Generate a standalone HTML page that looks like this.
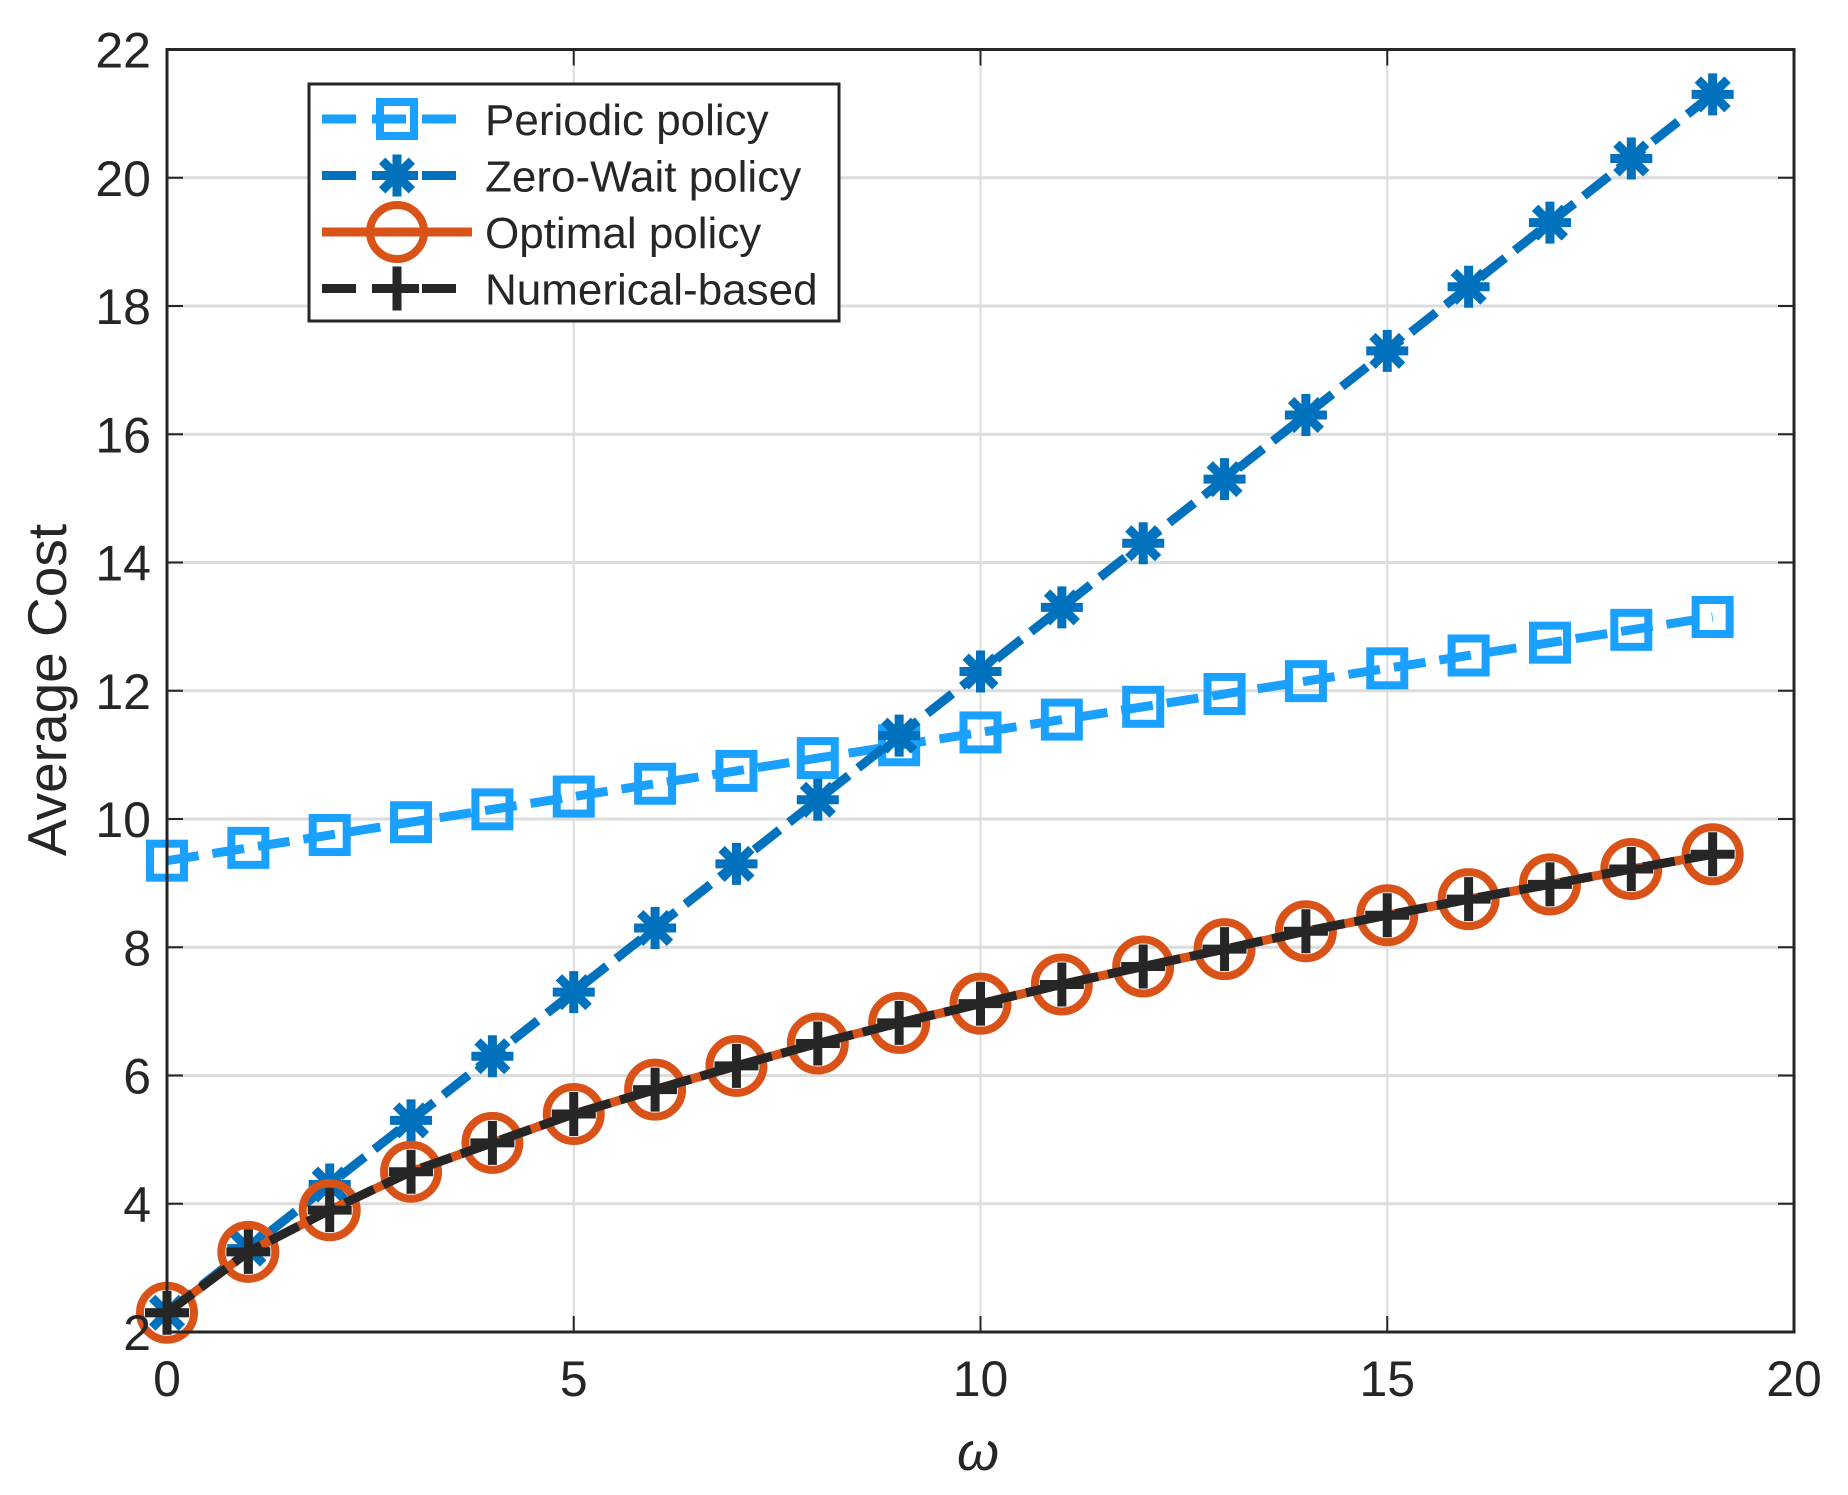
<!DOCTYPE html>
<html><head><meta charset="utf-8"><style>
html,body{margin:0;padding:0;background:#fff;}
svg{display:block;}
text{font-family:"Liberation Sans",Arial,sans-serif;fill:#262626;}
</style></head><body>
<svg id="s" width="1848" height="1495" xmlns="http://www.w3.org/2000/svg">
<rect width="1848" height="1495" fill="#fff"/>
<g id="grid"></g>
<g id="series"></g>
<g id="axes"></g>
<text x="978" y="1470" font-size="54" font-style="italic" text-anchor="middle" font-family="Liberation Serif">ω</text>
<text transform="translate(66,690) rotate(-90)" font-size="55" text-anchor="middle">Average Cost</text>
<g id="legend"></g>
</svg>
<script>
const NS="http://www.w3.org/2000/svg";
const L=167,R=1794,T=49.5,B=1332;
const X=v=>L+(R-L)*v/20, Y=v=>B-(B-T)*(v-2)/20;
function el(p,tag,a,txt){const e=document.createElementNS(NS,tag);for(const k in a)e.setAttribute(k,a[k]);if(txt!==undefined)e.textContent=txt;document.getElementById(p).appendChild(e);return e;}
for(let i=1;i<4;i++)el('grid','line',{x1:X(i*5),x2:X(i*5),y1:T,y2:B,stroke:'#dcdcdc','stroke-width':2});
for(let v=4;v<22;v+=2)el('grid','line',{x1:L,x2:R,y1:Y(v),y2:Y(v),stroke:'#dcdcdc','stroke-width':3});
el('axes','rect',{x:L,y:T,width:R-L,height:B-T,fill:'none',stroke:'#262626','stroke-width':3});
for(let i=0;i<=4;i++){const x=X(i*5);
 el('axes','line',{x1:x,x2:x,y1:B,y2:B-16,stroke:'#262626','stroke-width':2});
 el('axes','line',{x1:x,x2:x,y1:T,y2:T+16,stroke:'#262626','stroke-width':2});
 el('axes','text',{x:x,y:B+64,'font-size':50,'text-anchor':'middle'},String(i*5));}
for(let v=2;v<=22;v+=2){const y=Y(v);
 el('axes','line',{x1:L,x2:L+16,y1:y,y2:y,stroke:'#262626','stroke-width':2});
 el('axes','line',{x1:R,x2:R-16,y1:y,y2:y,stroke:'#262626','stroke-width':2});
 el('axes','text',{x:L-16,y:y+18,'font-size':50,'text-anchor':'end'},String(v));}
const per=[],zw=[],opt=[2.3,3.25,3.9,4.5,4.95,5.4,5.78,6.15,6.5,6.82,7.12,7.42,7.7,7.97,8.25,8.5,8.75,8.98,9.22,9.45];
for(let k=0;k<20;k++){per.push(9.35+0.2*k);zw.push(2.3+k);}
const cP='#1aa0ff',cZ='#0072bd',cO='#d95319',cN='#262626';
function poly(d,c,dash){el('series','polyline',{points:d.map((v,k)=>X(k)+','+Y(v)).join(' '),fill:'none',stroke:c,'stroke-width':9,'stroke-dasharray':dash||'none'});}
function sq(g,x,y,c){el(g,'rect',{x:x-17,y:y-17,width:34,height:34,fill:'none',stroke:c,'stroke-width':8});}
function ast(g,x,y,c){const r=21;for(const a of [0,45,90,135]){const t=a*Math.PI/180;el(g,'line',{x1:x-r*Math.cos(t),y1:y-r*Math.sin(t),x2:x+r*Math.cos(t),y2:y+r*Math.sin(t),stroke:c,'stroke-width':9});}el(g,'circle',{cx:x,cy:y,r:11,fill:c});}
function circ(g,x,y,c){el(g,'circle',{cx:x,cy:y,r:27,fill:'none',stroke:c,'stroke-width':8});}
function plus(g,x,y,c){el(g,'line',{x1:x-22,x2:x+22,y1:y,y2:y,stroke:c,'stroke-width':9});el(g,'line',{x1:x,x2:x,y1:y-22,y2:y+22,stroke:c,'stroke-width':9});}
poly(per,cP,'32 14');per.forEach((v,k)=>sq('series',X(k),Y(v),cP));
poly(zw,cZ,'32 12');zw.forEach((v,k)=>ast('series',X(k),Y(v),cZ));
poly(opt,cO);opt.forEach((v,k)=>circ('series',X(k),Y(v),cO));
poly(opt,cN,'32 10');opt.forEach((v,k)=>plus('series',X(k),Y(v),cN));
el('legend','rect',{x:309,y:84,width:530,height:237,fill:'#fff',stroke:'#262626','stroke-width':3});
const rows=[['Periodic policy',cP,sq,'34 16'],['Zero-Wait policy',cZ,ast,'34 16'],['Optimal policy',cO,circ,'none'],['Numerical-based',cN,plus,'34 16']];
rows.forEach((r,i)=>{const y=119+i*56.5;
 el('legend','line',{x1:322,x2:472,y1:y,y2:y,stroke:r[1],'stroke-width':9,'stroke-dasharray':r[3]});
 r[2]('legend',397,y,r[1]);
 el('legend','text',{x:485,y:y+16,'font-size':44,fill:'#000'},r[0]);});
</script>
</body></html>
